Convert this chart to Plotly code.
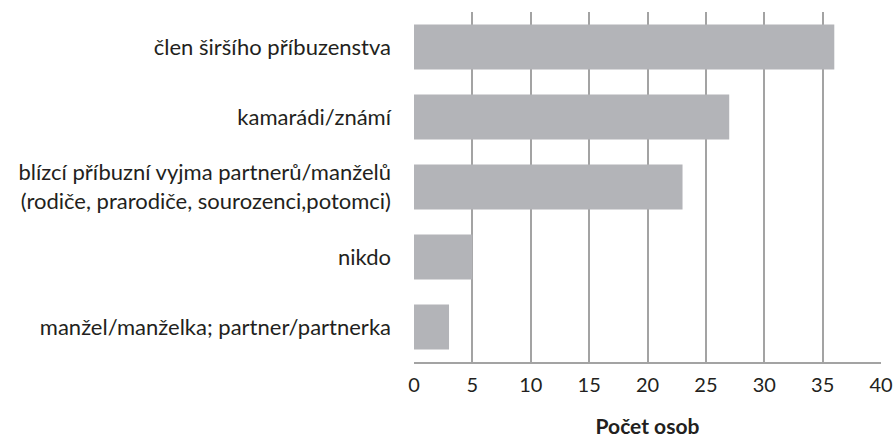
import plotly.graph_objects as go

categories = [
    "manžel/manželka; partner/partnerka",
    "nikdo",
    "blízcí příbuzní vyjma partnerů/manželů<br>(rodiče, prarodiče, sourozenci,potomci)",
    "kamarádi/známí",
    "člen širšího příbuzenstva",
]
values = [3, 5, 23, 27, 36]
x_ticks = [0, 5, 10, 15, 20, 25, 30, 35, 40]
x_title = "Počet osob"

FONT = "Lato"

fig = go.Figure(go.Bar(
    x=values, y=categories, orientation="h",
    marker=dict(color="#b3b4b8", line=dict(width=0)),
    width=0.64,
))

fig.update_layout(
    width=896, height=438,
    margin=dict(l=414, r=15, t=12, b=76, autoexpand=False),
    plot_bgcolor="white", paper_bgcolor="white",
    font=dict(family=FONT, size=22, color="#231f20"),
    showlegend=False,
)
fig.update_xaxes(
    range=[0, 40], tickvals=x_ticks, ticktext=[str(t) for t in x_ticks],
    showgrid=True, gridcolor="#a3a3a3", gridwidth=1.5,
    zeroline=False, showline=True, linecolor="#a3a3a3", linewidth=1.5,
    ticks="", ticklabelstandoff=4, automargin=False,
    tickfont=dict(size=20),
    title=dict(text="<b>" + x_title + "</b>", font=dict(size=21), standoff=43),
)
fig.update_yaxes(
    showgrid=False, zeroline=False, showline=False,
    ticks="", ticklabelstandoff=22, automargin=False,
    tickfont=dict(size=22),
)

# remove the page's default body margin so the 896x438 figure fills the window
fig.write_html(
    "out.html",
    config={"displayModeBar": False},
    post_script="document.body.style.margin='0px';document.body.style.overflow='hidden';",
)
